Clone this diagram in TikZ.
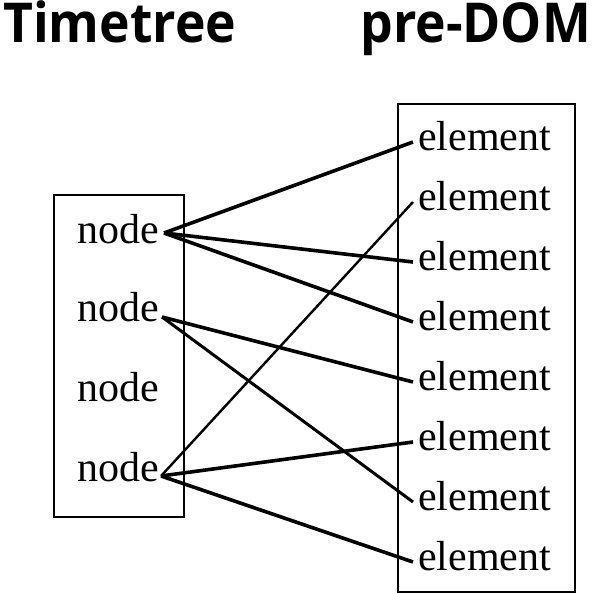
\documentclass[tikz,border=0pt]{standalone}
\usepackage{fontspec}
\setmainfont{Liberation Serif}
\newfontfamily\titlefont{Open Sans}
\usetikzlibrary{positioning}

\begin{document}
\begin{tikzpicture}[x=1pt, y=-1pt]
\tikzstyle{item}=[inner sep=0pt, anchor=base west, font=\fontsize{42}{42}\selectfont]
\tikzstyle{title}=[inner sep=0pt, xscale=0.94, font=\titlefont\bfseries\fontsize{55}{55}\selectfont]
\tikzstyle{box}=[draw, line width=1.4pt, inner sep=0pt]
\tikzstyle{link}=[line width=3.6pt]
\useasboundingbox (0,0) rectangle (595,593);

\node[title, anchor=base west] (tt) at (3,43) {Timetree};
\node[title, anchor=base east] (pd) at (591,43) {pre-DOM};

\node[box, minimum width=130pt, minimum height=322pt] (tree) at (119,356) {};
\node[box, minimum width=177pt, minimum height=488pt] (dom) at (486.5,348) {};

\node[item] (n1) at (77,244) {node};
\node[item] (n2) at (77,322) {node};
\node[item] (n3) at (77,402) {node};
\node[item] (n4) at (77,482) {node};

\foreach \i in {1,...,8}
  \node[item] (e\i) at (418,151+60*\i-60) {element};

\coordinate (p1) at ([xshift=5pt, yshift=11pt]n1.base east);
\coordinate (p2) at ([xshift=3pt, yshift=5pt]n2.base east);
\coordinate (p4) at ([xshift=2pt, yshift=6pt]n4.base east);

\path[link]
(p1) edge ([xshift=-5pt, yshift=9pt]e1.base west)
     edge ([xshift=-5pt, yshift=9pt]e3.base west)
     edge ([xshift=-5pt, yshift=9pt]e4.base west)
(p2) edge ([xshift=-5pt, yshift=9pt]e5.base west)
     edge[line width=3pt] ([xshift=-5pt, yshift=9pt]e7.base west)
(p4) edge[line width=2.4pt] ([xshift=-5pt, yshift=9pt]e2.base west)
     edge ([xshift=-5pt, yshift=9pt]e6.base west)
     edge ([xshift=-5pt, yshift=9pt]e8.base west);

\end{tikzpicture}
\end{document}
